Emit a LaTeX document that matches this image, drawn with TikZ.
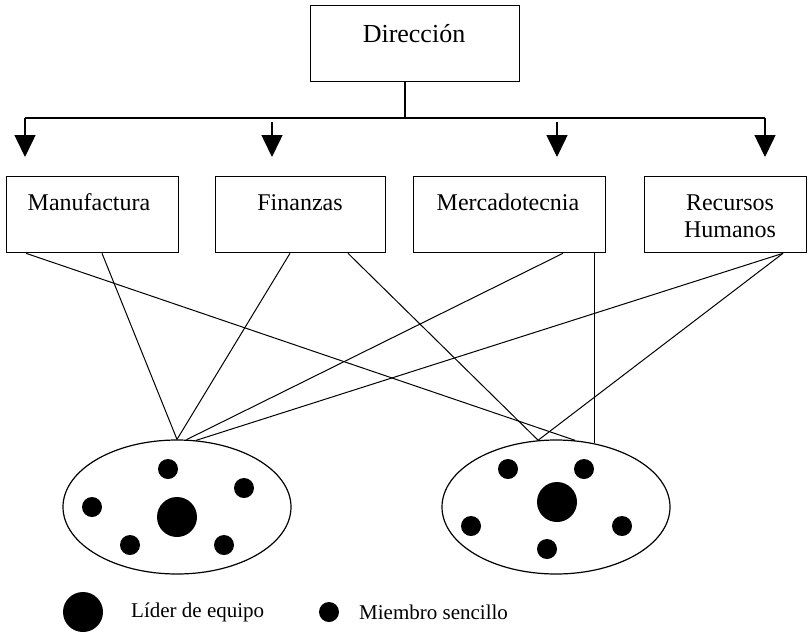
\documentclass[tikz,border=0pt]{standalone}
\usepackage{fontspec}
\setmainfont{Liberation Serif}
\usetikzlibrary{arrows.meta,shapes.geometric,calc}

\tikzset{
  unit/.style={draw, line width=1.3pt, rectangle, inner sep=0pt, anchor=north west},
  lbl/.style={inner sep=0pt, font=\fontsize{24}{27}\selectfont, align=center},
  team/.style={draw, line width=1.2pt, ellipse, inner sep=0pt,
               minimum width=228pt, minimum height=134pt},
  member/.style={circle, fill=black, inner sep=0pt, minimum size=20pt},
  leader/.style={circle, fill=black, inner sep=0pt, minimum size=40pt},
  link/.style={line width=1pt},
  bus/.style={line width=1.5pt},
  down/.style={line width=1.5pt, -{Triangle[length=22pt,width=21pt]}},
  legend/.style={inner sep=0pt, anchor=west, font=\fontsize{21}{24}\selectfont},
}

\begin{document}
\begin{tikzpicture}[x=1pt, y=-1pt]
  \useasboundingbox[fill=white] (0,0) rectangle (809,633);

  % top box
  \node[unit, minimum width=209pt, minimum height=76pt] (dir) at (310,5) {};
  \node[lbl, font=\fontsize{26}{30}\selectfont] (dir-t) at (414,34) {Dirección};

  % departments
  \node[unit, minimum width=172pt, minimum height=76pt] (man) at (6,176) {};
  \node[unit, minimum width=170pt, minimum height=76pt] (fin) at (215,176) {};
  \node[unit, minimum width=192pt, minimum height=76pt] (mer) at (413,176) {};
  \node[unit, minimum width=162pt, minimum height=76pt] (rec) at (644,176) {};
  \node[lbl, anchor=base] (man-t) at (89,210) {Manufactura};
  \node[lbl, anchor=base] (fin-t) at (300,210) {Finanzas};
  \node[lbl, anchor=base] (mer-t) at (508,210) {Mercadotecnia};
  \node[lbl] (rec-t) at (730,216) {Recursos\\Humanos};

  % distribution bus with arrows
  \coordinate (busL) at (25,118);
  \coordinate (busR) at (765,118);
  \coordinate (t2) at ([xshift=57pt,yshift=19pt]fin.north west);
  \coordinate (t3) at ([xshift=144pt,yshift=19pt]mer.north west);
  \draw[bus] ([xshift=95pt]dir.south west) -- ([xshift=95pt]dir.south west |- busL);
  \draw[bus] (busL) -- (busR);
  \draw[down] (busL) -- ([xshift=19pt,yshift=19pt]man.north west);
  \draw[down] ([yshift=-4pt]t2 |- busL) -- (t2);
  \draw[down] ([yshift=-4pt]t3 |- busL) -- (t3);
  \draw[down] (busR) -- ([xshift=121pt,yshift=19pt]rec.north west);

  % teams
  \node[team] (teamA) at (177,507) {};
  \node[team] (teamB) at (556,507) {};

  \node[member] (a1) at (168,469) {};
  \node[member] (a2) at (244,488) {};
  \node[member] (a3) at (92,507) {};
  \node[leader] (a0) at (177,517) {};
  \node[member] (a4) at (130,545) {};
  \node[member] (a5) at (224,545) {};

  \node[member] (b1) at (508,469) {};
  \node[member] (b2) at (584,469) {};
  \node[leader] (b0) at (557,502) {};
  \node[member] (b3) at (471,526) {};
  \node[member] (b4) at (622,526) {};
  \node[member] (b5) at (547,549) {};

  % links from departments to teams
  \draw[link] ([xshift=20pt]man.south west) -- (teamB.74);
  \draw[link] ([xshift=96pt]man.south west) -- (teamA.north);
  \draw[link] ([xshift=75pt]fin.south west) -- (teamA.north);
  \draw[link] ([xshift=133pt]fin.south west) -- (teamB.105);
  \draw[link] ([xshift=150pt]mer.south west) -- (teamA.82);
  \draw[link] ([xshift=181pt]mer.south west) coordinate (mv) -- (mv |- teamB.59);
  \draw[link] ([xshift=139pt]rec.south west) -- (teamA.74);
  \draw[link] ([xshift=139pt]rec.south west) -- (teamB.105);

  % legend
  \node[leader] (kl) at (83,612) {};
  \node[legend] (kl-t) at (131,612) {Líder de equipo};
  \node[member] (km) at (329,612) {};
  \node[legend] (km-t) at (359,612) {Miembro sencillo};
\end{tikzpicture}
\end{document}
